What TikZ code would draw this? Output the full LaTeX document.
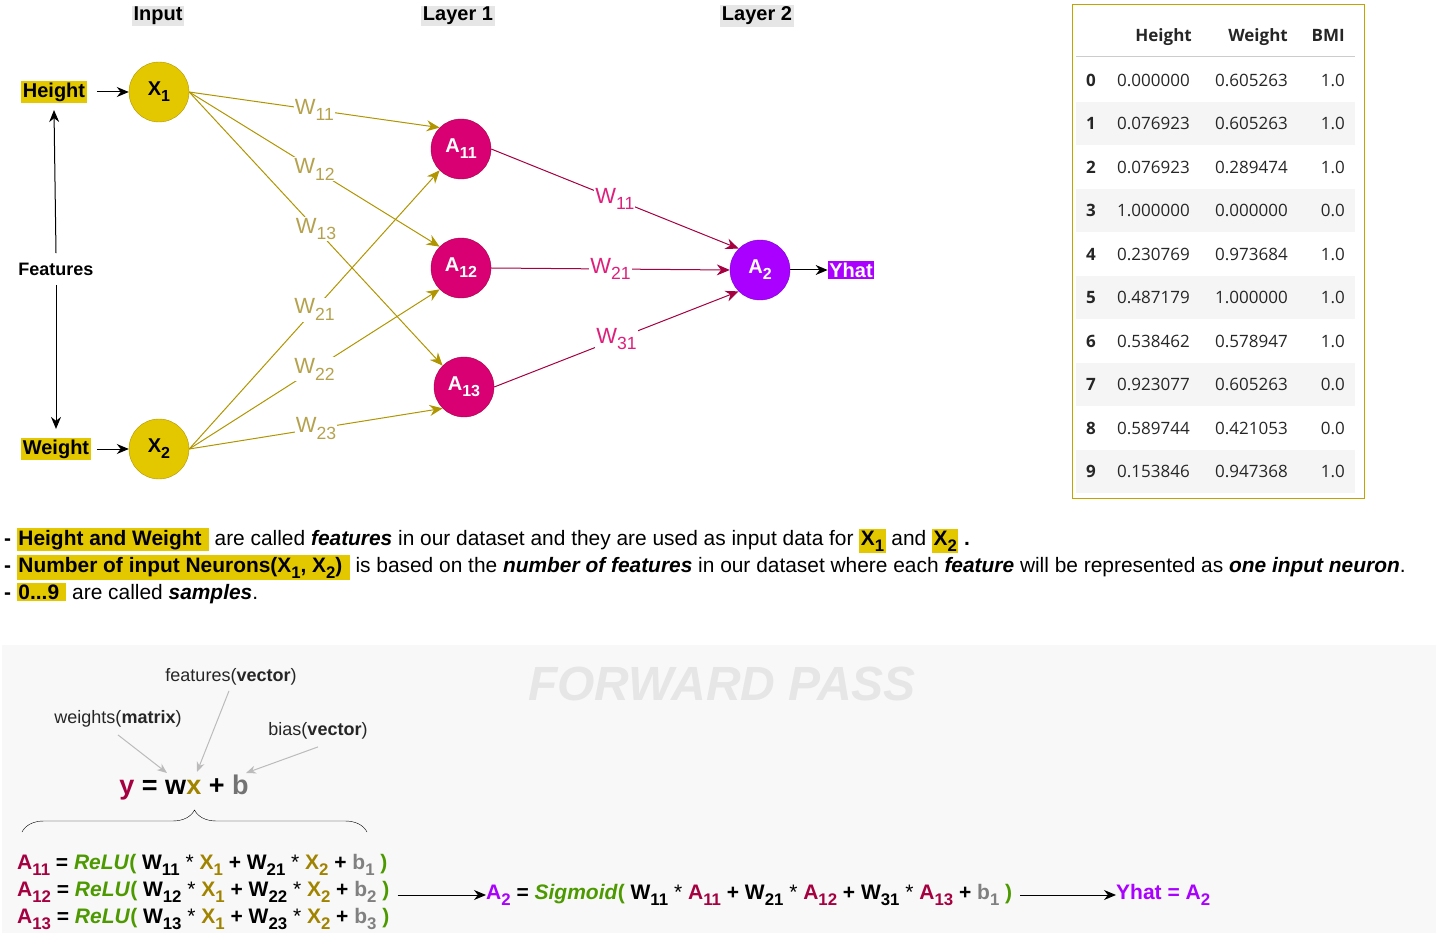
\documentclass[tikz,border=0pt]{standalone}
\usepackage{fontspec}
\usepackage{graphicx}
\setmainfont{Liberation Sans}
\newfontfamily\tabfont{Open Sans}
\usetikzlibrary{arrows.meta,decorations.pathreplacing}
\definecolor{gold}{HTML}{E3C800}
\definecolor{golddark}{HTML}{B09500}
\definecolor{goldlab}{HTML}{B5A24E}
\definecolor{neuronpink}{HTML}{D80073}
\definecolor{pinkdark}{HTML}{A50040}
\definecolor{pinklab}{HTML}{DE1F7C}
\definecolor{purp}{HTML}{AA00FF}
\definecolor{purpdark}{HTML}{7700CC}
\definecolor{titlegray}{HTML}{E6E6E6}
\definecolor{panelgray}{HTML}{F8F8F8}
\definecolor{rowgray}{HTML}{F5F5F5}
\definecolor{framegold}{HTML}{C4A300}
\definecolor{notegray}{HTML}{BBBBBB}
\definecolor{crim}{HTML}{A50040}
\definecolor{grn}{HTML}{4D9900}
\definecolor{xolive}{HTML}{A08400}
\definecolor{bgray}{HTML}{808080}
\newcommand{\fsz}[1]{\fontsize{#1}{#1}\selectfont}
\newcommand{\lo}[1]{\raisebox{-0.3em}{\scalebox{0.8}{#1}}}
\newcommand{\hl}[1]{{\setlength{\fboxsep}{1.5pt}\colorbox{gold}{\textbf{#1}}}}
\begin{document}
\begin{tikzpicture}[x=1pt,y=-1pt,
  title/.style={fill=titlegray,inner sep=1.5pt,font=\bfseries\fsz{20}},
  inp/.style={circle,draw=golddark,fill=gold,minimum size=60pt,inner sep=0pt,font=\bfseries\fsz{20}},
  hid/.style={circle,draw=pinkdark,fill=neuronpink,text=white,minimum size=60pt,inner sep=0pt,font=\bfseries\fsz{20}},
  outn/.style={circle,draw=purpdark,fill=purp,text=white,minimum size=60pt,inner sep=0pt,font=\bfseries\fsz{20}},
  tag/.style={inner sep=1.5pt,font=\bfseries\fsz{20}},
  wone/.style={draw=golddark,line width=1pt,-{Stealth[length=13pt,width=11pt]}},
  wtwo/.style={draw=pinkdark,line width=1pt,-{Stealth[length=13pt,width=11pt]}},
  lone/.style={fill=white,inner sep=1pt,text=goldlab,font=\fsz{22}},
  ltwo/.style={fill=white,inner sep=1pt,text=pinklab,font=\fsz{22}},
  blk/.style={line width=1pt,-{Stealth[length=12pt,width=10pt]}},
  note/.style={draw=notegray,line width=1pt,-{Stealth[length=10pt,width=8pt]}},
  cell/.style={inner sep=0pt,text=black!85,font=\tabfont\fsz{17}},
  line/.style={anchor=base west,inner sep=0pt,font=\fsz{20.9}},
  form/.style={anchor=west,inner sep=0pt,font=\bfseries\fsz{21}}]
\useasboundingbox (0,0) rectangle (1436,933);
% titles
\node[title] (tin) at (158,16) {Input};
\node[title] (tl1) at (458,16) {Layer 1};
\node[title] (tl2) at (757,16) {Layer 2};
% neurons
\node[inp] (x1) at (159,92) {X\lo{1}};
\node[inp] (x2) at (159,449) {X\lo{2}};
\node[hid] (a11) at (461,149) {A\lo{11}};
\node[hid] (a12) at (461,268) {A\lo{12}};
\node[hid] (a13) at (464,387) {A\lo{13}};
\node[outn] (a2) at (760,270) {A\lo{2}};
% feature tags
\node[tag,fill=gold] (hgt) at (54,92) {Height};
\node[tag,fill=gold] (wgt) at (56,449) {Weight};
\node[tag,font=\bfseries\fsz{18}] (feat) at (56,269) {Features};
\node[tag,fill=purp,text=white] (yhat) at (851,270) {Yhat};
\draw[blk] (hgt.east) ++(10,0) coordinate (h0) -- (x1.west);
\draw[blk] (wgt.east) ++(6,0) coordinate (w0) -- (x2.west);
\draw[blk] (feat.north) ++(0,-8) coordinate (f0) -- ([yshift=-7pt]hgt.south);
\draw[blk] (feat.south) ++(0,8) coordinate (f1) -- ([yshift=9pt]wgt.north);
\draw[blk] (a2.east) -- (yhat.west);
% weights input -> layer 1
\draw[wone] (x1.east) -- node[lone]{W\lo{11}} (a11.135);
\draw[wone] (x1.east) -- node[lone]{W\lo{12}} (a12.135);
\draw[wone] (x1.east) -- node[lone]{W\lo{13}} (a13.135);
\draw[wone] (x2.east) -- node[lone]{W\lo{21}} (a11.225);
\draw[wone] (x2.east) -- node[lone]{W\lo{22}} (a12.225);
\draw[wone] (x2.east) -- node[lone]{W\lo{23}} (a13.225);
% weights layer 1 -> layer 2
\draw[wtwo] (a11.east) -- node[ltwo]{W\lo{11}} (a2.135);
\draw[wtwo] (a12.east) -- node[ltwo]{W\lo{21}} (a2.west);
\draw[wtwo] (a13.east) -- node[ltwo]{W\lo{31}} (a2.225);
% table
\draw[framegold,line width=1pt] (1072,5) rectangle (1364,498);
\foreach \i in {1,3,5,7,9}
  \fill[rowgray] (1076,{58.5+43.5*\i}) rectangle (1355,{101.5+43.5*\i});
\draw[black!20,line width=1pt] (1076,57) -- (1355,57);
\node[cell,anchor=base east,font=\tabfont\bfseries\fsz{17}] (th) at (1192,42) {Height};
\node[cell,anchor=base east,font=\tabfont\bfseries\fsz{17}] (tw) at (1288,42) {Weight};
\node[cell,anchor=base east,font=\tabfont\bfseries\fsz{17}] (tb) at (1345,42) {BMI};
\foreach \i/\h/\w/\b in {0/0.000000/0.605263/1.0,1/0.076923/0.605263/1.0,
    2/0.076923/0.289474/1.0,3/1.000000/0.000000/0.0,4/0.230769/0.973684/1.0,
    5/0.487179/1.000000/1.0,6/0.538462/0.578947/1.0,7/0.923077/0.605263/0.0,
    8/0.589744/0.421053/0.0,9/0.153846/0.947368/1.0}{
  \node[cell,font=\tabfont\bfseries\fsz{17}] (r\i) at (1091,{80+43.5*\i}) {\i};
  \node[cell,anchor=east] (rh\i) at (1190,{80+43.5*\i}) {\h};
  \node[cell,anchor=east] (rw\i) at (1288,{80+43.5*\i}) {\w};
  \node[cell,anchor=east] (rb\i) at (1345,{80+43.5*\i}) {\b};
}
% notes
\node[line] (n1) at (4,545) {\textbf{-} \hl{Height and Weight } are called \textbf{\textit{features}} in our dataset and they are used as input data for \hl{X\lo{1}} and \hl{X\lo{2}} \textbf{.}};
\node[line] (n2) at (4,572) {\textbf{-} \hl{Number of input Neurons(X\lo{1}, X\lo{2}) } is based on the \textbf{\textit{number of features}} in our dataset where each \textbf{\textit{feature}} will be represented as \textbf{\textit{one input neuron}}.};
\node[line] (n3) at (4,599) {\textbf{-} \hl{0...9 } are called \textbf{\textit{samples}}.};
% forward pass panel
\fill[panelgray] (2,645) rectangle (1436,933);
\node[font=\bfseries\itshape\fsz{48},text=titlegray] (fp) at (722,684) {FORWARD PASS};
\node[font=\fsz{18},text=black!85] (nf) at (231,677) {features(\textbf{vector})};
\node[font=\fsz{18},text=black!85] (nw) at (118,719) {weights(\textbf{matrix})};
\node[font=\fsz{18},text=black!85] (nb) at (318,731) {bias(\textbf{vector})};
\node[font=\bfseries\fsz{27}] (eq) at (184,788) {\textcolor{crim}{y} = w\textcolor{xolive}{x} + \textcolor{black!55}{b}};
\coordinate (cw) at (167,773);
\coordinate (cx) at (197,772);
\coordinate (cb) at (246,773);
\draw[note] (nw.south) ++(0,4) -- (cw);
\draw[note] (nf.south) ++(-2,2) -- (cx);
\draw[note] (nb.south) ++(0,4) -- (cb);
\draw[decorate,decoration={brace,amplitude=22pt}] (22,832) -- (367,832);
% formulas
\node[form] (f11) at (17,865) {\textcolor{crim}{A\lo{11}} = \textcolor{grn}{\textit{ReLU}(} W\lo{11} {\mdseries*} \textcolor{xolive}{X\lo{1}} + W\lo{21} {\mdseries*} \textcolor{xolive}{X\lo{2}} + \textcolor{bgray}{b\lo{1}} \textcolor{grn}{)}};
\node[form] (f12) at (17,892) {\textcolor{crim}{A\lo{12}} = \textcolor{grn}{\textit{ReLU}(} W\lo{12} {\mdseries*} \textcolor{xolive}{X\lo{1}} + W\lo{22} {\mdseries*} \textcolor{xolive}{X\lo{2}} + \textcolor{bgray}{b\lo{2}} \textcolor{grn}{)}};
\node[form] (f13) at (17,919) {\textcolor{crim}{A\lo{13}} = \textcolor{grn}{\textit{ReLU}(} W\lo{13} {\mdseries*} \textcolor{xolive}{X\lo{1}} + W\lo{23} {\mdseries*} \textcolor{xolive}{X\lo{2}} + \textcolor{bgray}{b\lo{3}} \textcolor{grn}{)}};
\node[form] (fa2) at (486,895) {\textcolor{purp}{A\lo{2}} = \textcolor{grn}{\textit{Sigmoid}(} W\lo{11} {\mdseries*} \textcolor{crim}{A\lo{11}} + W\lo{21} {\mdseries*} \textcolor{crim}{A\lo{12}} + W\lo{31} {\mdseries*} \textcolor{crim}{A\lo{13}} + \textcolor{bgray}{b\lo{1}} \textcolor{grn}{)}};
\node[form,text=purp] (fy) at (1116,895) {Yhat = A\lo{2}};
\draw[blk] (f12.east) ++(8,3) coordinate (g0) -- (fa2.west);
\draw[blk] (fa2.east) ++(8,0) coordinate (g1) -- (fy.west);
\end{tikzpicture}
\end{document}
